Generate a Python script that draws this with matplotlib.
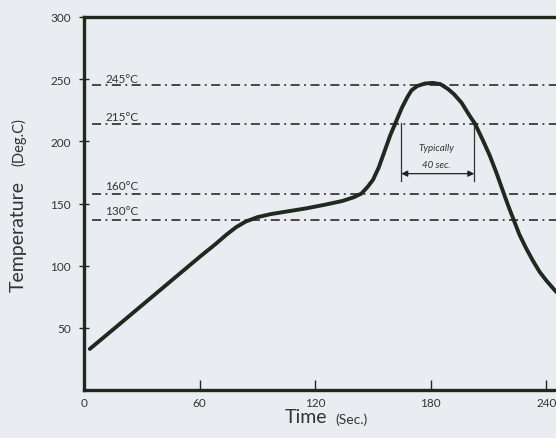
import matplotlib
matplotlib.use("Agg")
from matplotlib import pyplot as plt

# reflow profile
time_s = [3, 20, 40, 60, 68, 74, 79, 84, 90, 97, 105, 115, 125, 134, 140, 144, 147, 150,
          153, 156, 159, 162, 165, 168, 170, 173, 177, 181, 185, 189, 192, 196, 200,
          203, 207, 210.5, 214, 217, 220, 222.5, 226, 229.5, 233, 236.5, 240, 244.5, 247]
temp_c = [33, 55, 81, 107, 117, 125, 131, 135.5, 139, 141.5, 143.5, 146, 149, 152, 155, 158, 163, 169,
          179, 192, 205, 216, 227, 236, 241, 244.5, 246.5, 247, 246, 242, 238, 231, 221,
          214, 201, 189, 175, 162, 149, 139, 125, 114, 104, 95, 88, 80, 76]

ref_levels = [245, 214, 158, 137]
ref_labels = ["245°C", "215°C", "160°C", "130°C"]

x_ticks = [0, 60, 120, 180, 240]
y_ticks = [50, 100, 150, 200, 250, 300]

span_start, span_end, span_y = 164.7, 202.6, 174

ink = '#1f2a1f'
bg = '#e9ecf0'

plt.rcParams['font.family'] = ['Lato', 'DejaVu Sans']

fig = plt.figure(figsize=(5.56, 4.39), dpi=100, facecolor=bg)
ax = fig.add_axes([84 / 556, 48 / 439, 472 / 556, 373 / 439], facecolor=bg)

for lvl in ref_levels:
    ax.plot([4, 250], [lvl, lvl], color='#3a3a3a', lw=1.3,
            dashes=(5, 2.5, 1, 2.5), zorder=2)

label_y = [250.5, 220, 164.5, 144]
for lbl, ly in zip(ref_labels, label_y):
    ax.text(11, ly, lbl, fontsize=8.5, color='#333333', va='center', ha='left')

ax.plot(time_s, temp_c, color=ink, lw=2.8, solid_joinstyle='round',
        solid_capstyle='round', zorder=4)

# "typically 40 sec" bracket
ax.plot([span_start, span_start], [168, 215], color='#333333', lw=0.9)
ax.plot([span_end, span_end], [168, 215], color='#333333', lw=0.9)
ax.annotate('', xy=(span_start, span_y), xytext=(span_end, span_y),
            arrowprops=dict(arrowstyle='<|-|>', color='#222222', lw=0.9,
                            mutation_scale=9, shrinkA=0, shrinkB=0))
ax.text(183, 195, "Typically", fontsize=7, style='italic', ha='center', va='center', color='#333333')
ax.text(183, 181, "40 sec.", fontsize=7, style='italic', ha='center', va='center', color='#333333')

ax.set_xlim(0, 245)
ax.set_ylim(0, 300)
ax.set_xticks(x_ticks)
ax.set_yticks(y_ticks)
ax.tick_params(axis='y', direction='inout', length=7, width=1, colors=ink,
               labelsize=8.5, pad=6, labelcolor='#333333')
ax.tick_params(axis='x', direction='in', length=7, width=1, colors=ink,
               labelsize=8.5, pad=5, labelcolor='#333333')

for side in ['left', 'top', 'bottom']:
    ax.spines[side].set_linewidth(2.4)
    ax.spines[side].set_color(ink)
ax.spines['right'].set_visible(False)

fig.text(18 / 556, 1 - 237 / 439, "Temperature", rotation=90, fontsize=14,
         ha='center', va='center', color='#333333')
fig.text(19 / 556, 1 - 142 / 439, "(Deg.C)", rotation=90, fontsize=10.5,
         ha='center', va='center', color='#333333')
fig.text(306 / 556, 1 - 418 / 439, "Time", fontsize=14, ha='center', va='center', color='#333333')
fig.text(352 / 556, 1 - 420 / 439, "(Sec.)", fontsize=10, ha='center', va='center', color='#333333')

plt.savefig("out.png", dpi=100, facecolor=bg)
